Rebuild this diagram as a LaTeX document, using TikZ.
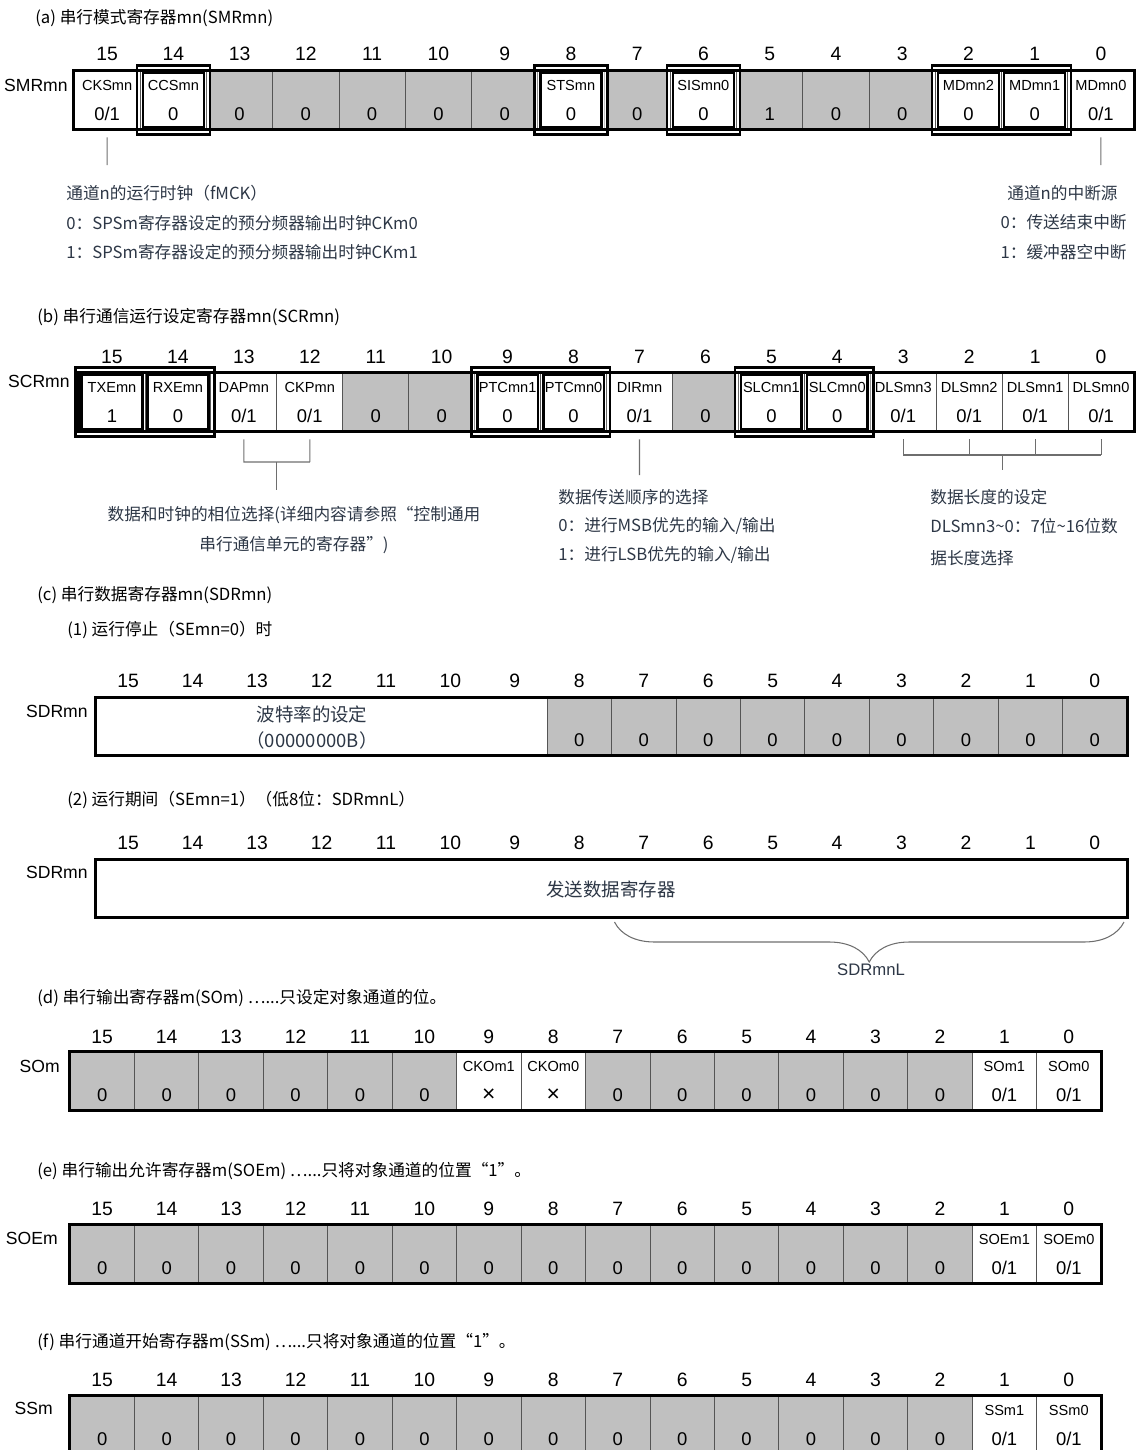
\documentclass[tikz,border=0pt]{standalone}
\usepackage{fontspec}
\setmainfont{Liberation Sans}
\newfontfamily\cjk{Noto Sans CJK SC}
\usetikzlibrary{calc,decorations.pathreplacing}
\definecolor{cellgray}{RGB}{192,192,192}
\definecolor{sepgray}{RGB}{85,85,85}
\definecolor{leadgray}{RGB}{110,110,110}
\definecolor{notegray}{RGB}{45,55,70}

\begin{document}
\begin{tikzpicture}[
    x=0.02cm, y=-0.02cm,
    bitcell/.style={
        draw=sepgray,
        line width=0.45pt,
        inner sep=0pt,
        minimum height=1.16cm
    },
    regframe/.style={line width=1.6pt},
    dblline/.style={line width=1.5pt},
    bitnum/.style={inner sep=0pt, font=\fontsize{11}{13}\selectfont},
    fldname/.style={inner sep=0pt, font=\fontsize{8.3}{10}\selectfont},
    fldval/.style={inner sep=0pt, font=\fontsize{10.5}{12}\selectfont},
    regname/.style={anchor=east, inner sep=0pt, font=\fontsize{10}{12}\selectfont},
    title/.style={anchor=west, inner sep=0pt, font=\cjk\fontsize{9.5}{12}\selectfont},
    note/.style={inner sep=0pt, text=notegray, font=\cjk\fontsize{9.5}{12}\selectfont},
    bignote/.style={inner sep=0pt, text=notegray, font=\cjk\fontsize{10.5}{12}\selectfont},
    leader/.style={draw=leadgray, line width=0.6pt}
]
\useasboundingbox (0,0) rectangle (1136,1450);

% (a) SMRmn
\node[title] (titlea) at (35,18) {(a) 串行模式寄存器mn(SMRmn)};
\node[regname] (smrname) at (68,85) {SMRmn};
\foreach \bitno/\shade/\fname/\fval in {
    15/white/CKSmn/{0/1}, 14/white/CCSmn/0, 13/cellgray/{}/0, 12/cellgray/{}/0,
    11/cellgray/{}/0, 10/cellgray/{}/0, 9/cellgray/{}/0, 8/white/STSmn/0,
    7/cellgray/{}/0, 6/white/SISmn0/0, 5/cellgray/{}/1, 4/cellgray/{}/0,
    3/cellgray/{}/0, 2/white/MDmn2/0, 1/white/MDmn1/0, 0/white/MDmn0/{0/1}} {
  \node[bitnum] (smrbit\bitno) at ({74+66.25*(15.5-\bitno)},54) {\bitno};
  \node[bitcell, minimum width=1.325cm, fill=\shade] (smr\bitno) at ({74+66.25*(15.5-\bitno)},100) {};
  \node[fldname] (smrn\bitno) at ({74+66.25*(15.5-\bitno)},85) {\fname};
  \node[fldval] (smrv\bitno) at ({74+66.25*(15.5-\bitno)},114) {\fval};
}

% (b) SCRmn
\node[title] (titleb) at (37,317) {(b) 串行通信运行设定寄存器mn(SCRmn)};
\node[regname] (scrname) at (70,381) {SCRmn};
\foreach \bitno/\shade/\fname/\fval in {
    15/white/TXEmn/1, 14/white/RXEmn/0, 13/white/DAPmn/{0/1}, 12/white/CKPmn/{0/1},
    11/cellgray/{}/0, 10/cellgray/{}/0, 9/white/PTCmn1/0, 8/white/PTCmn0/0,
    7/white/DIRmn/{0/1}, 6/cellgray/{}/0, 5/white/SLCmn1/0, 4/white/SLCmn0/0,
    3/white/DLSmn3/{0/1}, 2/white/DLSmn2/{0/1}, 1/white/DLSmn1/{0/1}, 0/white/DLSmn0/{0/1}} {
  \node[bitnum] (scrbit\bitno) at ({79+65.94*(15.5-\bitno)},357) {\bitno};
  \node[bitcell, minimum width=1.3188cm, fill=\shade] (scr\bitno) at ({79+65.94*(15.5-\bitno)},402) {};
  \node[fldname] (scrn\bitno) at ({79+65.94*(15.5-\bitno)},387) {\fname};
  \node[fldval] (scrv\bitno) at ({79+65.94*(15.5-\bitno)},416) {\fval};
}

% double frames of the fixed bits
\foreach \p/\q in {smr14/smr14, smr8/smr8, smr6/smr6, smr2/smr1,
                   scr15/scr14, scr9/scr8, scr5/scr4} {
  \fill[white, even odd rule] ($(\p.north west)+(-3,-5)$) rectangle ($(\q.south east)+(3,5)$)
      (\p.north west) rectangle (\q.south east);
  \draw[dblline] ($(\p.north west)+(-3,-5)$) rectangle ($(\q.south east)+(3,5)$);
  \draw[dblline] ($(\p.north west)+(3,2)$) rectangle ($(\p.south east)+(-3,-2)$);
  \draw[dblline] ($(\q.north west)+(3,2)$) rectangle ($(\q.south east)+(-3,-2)$);
}
\draw[regframe] (smr15.north west) rectangle (smr0.south east);
\draw[regframe] (scr15.north west) rectangle (scr0.south east);

% notes of (a)
\coordinate (clkend) at (107.1,165);
\coordinate (intend) at (1100.9,165);
\draw[leader] (smr15.south) ++(0,8) -- (clkend);
\draw[leader] (smr0.south) ++(0,8) -- (intend);
\node[note, anchor=west] (clknote1) at (66,193) {通道n的运行时钟（fMCK）};
\node[note, anchor=west] (clknote2) at (66,223) {0：SPSm寄存器设定的预分频器输出时钟CKm0};
\node[note, anchor=west] (clknote3) at (66,252) {1：SPSm寄存器设定的预分频器输出时钟CKm1};
\node[note, anchor=east] (intnote1) at (1118,193) {通道n的中断源};
\node[note, anchor=east] (intnote2) at (1127,222) {0：传送结束中断};
\node[note, anchor=east] (intnote3) at (1127,252) {1：缓冲器空中断};

% notes of (b)
\coordinate (dapend) at (243.9,462);
\coordinate (ckpend) at (309.8,462);
\coordinate (phasetop) at (276.8,462);
\coordinate (phaseend) at (276.8,490);
\draw[leader] (scr13.south) ++(0,8) -- (dapend) -- (ckpend);
\draw[leader] (scr12.south) ++(0,8) -- (ckpend);
\draw[leader] (phasetop) -- (phaseend);
\node[note] (phasenote1) at (294,515) {数据和时钟的相位选择(详细内容请参照“控制通用};
\node[note] (phasenote2) at (294,545) {串行通信单元的寄存器”)};

\coordinate (dirend) at (639.5,475);
\draw[leader] (scr7.south) ++(0,8) -- (dirend);
\node[note, anchor=west] (dirnote1) at (558,497) {数据传送顺序的选择};
\node[note, anchor=west] (dirnote2) at (558,526) {0：进行MSB优先的输入/输出};
\node[note, anchor=west] (dirnote3) at (558,555) {1：进行LSB优先的输入/输出};

\coordinate (dlsmid) at (1002.2,455);
\coordinate (dlsend) at (1002.2,470);
\foreach \c in {scr3,scr2,scr1,scr0}
  \draw[leader] (\c.south) ++(0,8) -- (\c.south |- dlsmid);
\draw[leader] (scr3.south |- dlsmid) -- (scr0.south |- dlsmid);
\draw[leader] (dlsmid) -- (dlsend);
\node[note, anchor=west] (dlsnote1) at (930,497) {数据长度的设定};
\node[note, anchor=west] (dlsnote2) at (930,526) {DLSmn3\textasciitilde0：7位\textasciitilde16位数};
\node[note, anchor=west] (dlsnote3) at (930,558) {据长度选择};

% (c) SDRmn
\node[title] (titlec) at (37,595) {(c) 串行数据寄存器mn(SDRmn)};
\node[title] (titlec1) at (67,630) {(1) 运行停止（SEmn=0）时};
\node[regname] (sdraname) at (88,711) {SDRmn};
\foreach \bitno in {0,...,15}
  \node[bitnum] (sdrabit\bitno) at ({96+64.44*(15.5-\bitno)},681) {\bitno};
\node[bitcell, minimum width=9.022cm, minimum height=1.14cm, fill=white] (sdrahigh) at (321.5,726.5) {};
\node[bignote] (baudtxt) at (312,714) {波特率的设定};
\node[bignote] (baudval) at (312,740) {（00000000B）};
\foreach \bitno in {0,...,8} {
  \node[bitcell, minimum width=1.2888cm, minimum height=1.14cm, fill=cellgray] (sdra\bitno) at ({96+64.44*(15.5-\bitno)},726.5) {};
  \node[fldval] (sdrav\bitno) at ({96+64.44*(15.5-\bitno)},740) {0};
}
\draw[regframe] (sdrahigh.north west) rectangle (sdra0.south east);

\node[title] (titlec2) at (67,800) {(2) 运行期间（SEmn=1）（低8位：SDRmnL）};
\node[regname] (sdrbname) at (88,872) {SDRmn};
\foreach \bitno in {0,...,15}
  \node[bitnum] (sdrbbit\bitno) at ({96+64.44*(15.5-\bitno)},843) {\bitno};
\node[bitcell, minimum width=20.62cm, minimum height=1.14cm, fill=white] (sdrb) at (611.5,888.5) {};
\node[bignote] (sendtxt) at (611,889) {发送数据寄存器};
\draw[regframe] (sdrb.north west) rectangle (sdrb.south east);
\coordinate (lowleft) at (614.5,922);
\coordinate (lowright) at (1124,922);
\draw[leader, decorate, decoration={brace, mirror, amplitude=0.8cm}] (lowleft) -- (lowright);
\node[note, font=\fontsize{9.5}{12}\selectfont] (lowname) at (871,970) {SDRmnL};

% (d) SOm
\node[title] (titled) at (37,998) {(d) 串行输出寄存器m(SOm) ⋯...只设定对象通道的位。};
\node[regname] (soname) at (60,1066) {SOm};
\foreach \bitno/\shade/\fname/\fval in {
    15/cellgray/{}/0, 14/cellgray/{}/0, 13/cellgray/{}/0, 12/cellgray/{}/0,
    11/cellgray/{}/0, 10/cellgray/{}/0, 9/white/CKOm1/{\fontsize{13}{13}\selectfont×},
    8/white/CKOm0/{\fontsize{13}{13}\selectfont×},
    7/cellgray/{}/0, 6/cellgray/{}/0, 5/cellgray/{}/0, 4/cellgray/{}/0,
    3/cellgray/{}/0, 2/cellgray/{}/0, 1/white/SOm1/{0/1}, 0/white/SOm0/{0/1}} {
  \node[bitnum] (sobit\bitno) at ({70+64.44*(15.5-\bitno)},1037) {\bitno};
  \node[bitcell, minimum width=1.2888cm, fill=\shade] (so\bitno) at ({70+64.44*(15.5-\bitno)},1081) {};
  \node[fldname] (son\bitno) at ({70+64.44*(15.5-\bitno)},1066) {\fname};
  \node[fldval] (sov\bitno) at ({70+64.44*(15.5-\bitno)},1095) {\fval};
}
\draw[regframe] (so15.north west) rectangle (so0.south east);

% (e) SOEm
\node[title] (titlee) at (37,1171) {(e) 串行输出允许寄存器m(SOEm) ⋯...只将对象通道的位置“1”。};
\node[regname] (soename) at (58,1238) {SOEm};
\foreach \bitno/\shade/\fname/\fval in {
    15/cellgray/{}/0, 14/cellgray/{}/0, 13/cellgray/{}/0, 12/cellgray/{}/0,
    11/cellgray/{}/0, 10/cellgray/{}/0, 9/cellgray/{}/0, 8/cellgray/{}/0,
    7/cellgray/{}/0, 6/cellgray/{}/0, 5/cellgray/{}/0, 4/cellgray/{}/0,
    3/cellgray/{}/0, 2/cellgray/{}/0, 1/white/SOEm1/{0/1}, 0/white/SOEm0/{0/1}} {
  \node[bitnum] (soebit\bitno) at ({70+64.44*(15.5-\bitno)},1209) {\bitno};
  \node[bitcell, minimum width=1.2888cm, fill=\shade] (soe\bitno) at ({70+64.44*(15.5-\bitno)},1254) {};
  \node[fldname] (soen\bitno) at ({70+64.44*(15.5-\bitno)},1239) {\fname};
  \node[fldval] (soev\bitno) at ({70+64.44*(15.5-\bitno)},1268) {\fval};
}
\draw[regframe] (soe15.north west) rectangle (soe0.south east);

% (f) SSm
\node[title] (titlef) at (37,1342) {(f) 串行通道开始寄存器m(SSm) ⋯...只将对象通道的位置“1”。};
\node[regname] (ssname) at (53,1408) {SSm};
\foreach \bitno/\shade/\fname/\fval in {
    15/cellgray/{}/0, 14/cellgray/{}/0, 13/cellgray/{}/0, 12/cellgray/{}/0,
    11/cellgray/{}/0, 10/cellgray/{}/0, 9/cellgray/{}/0, 8/cellgray/{}/0,
    7/cellgray/{}/0, 6/cellgray/{}/0, 5/cellgray/{}/0, 4/cellgray/{}/0,
    3/cellgray/{}/0, 2/cellgray/{}/0, 1/white/SSm1/{0/1}, 0/white/SSm0/{0/1}} {
  \node[bitnum] (ssbit\bitno) at ({70+64.44*(15.5-\bitno)},1380) {\bitno};
  \node[bitcell, minimum width=1.2888cm, fill=\shade] (ss\bitno) at ({70+64.44*(15.5-\bitno)},1425) {};
  \node[fldname] (ssn\bitno) at ({70+64.44*(15.5-\bitno)},1410) {\fname};
  \node[fldval] (ssv\bitno) at ({70+64.44*(15.5-\bitno)},1439) {\fval};
}
\draw[regframe] (ss15.north west) rectangle (ss0.south east);

\end{tikzpicture}
\end{document}
